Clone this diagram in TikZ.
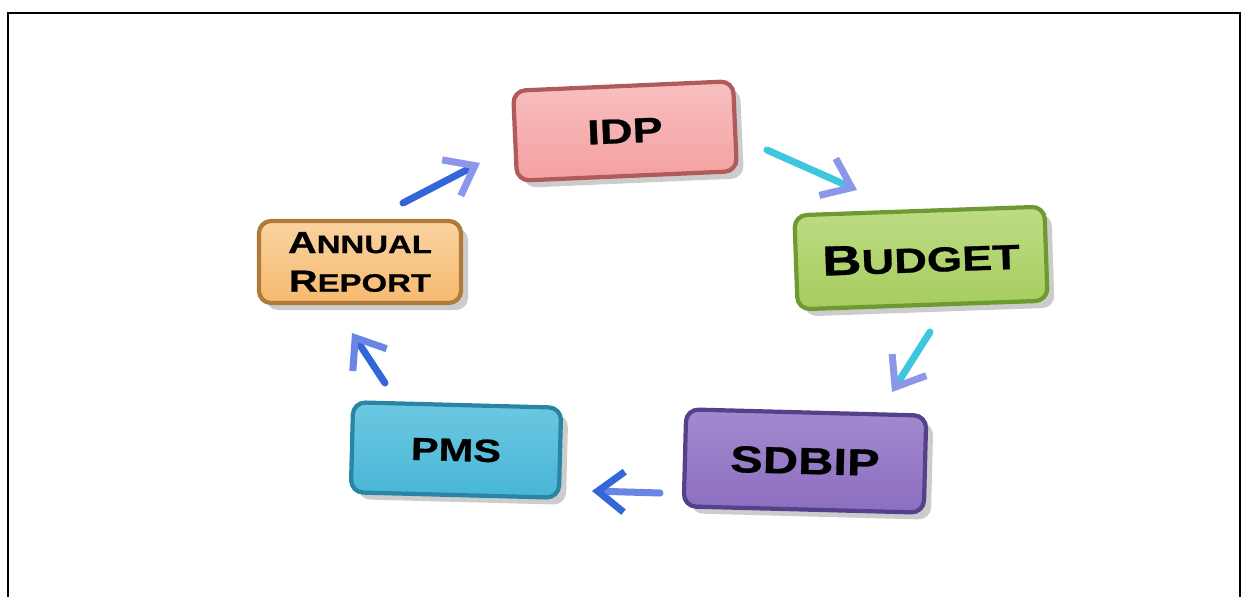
\documentclass[tikz,border=0pt]{standalone}
\usepackage{fontspec}
\setmainfont{Liberation Sans}
\newfontfamily\boxfont[FakeStretch=1.3,FakeBold=0.8]{Liberation Sans Bold}
\usetikzlibrary{arrows.meta,shadows}
\definecolor{idpfill}{HTML}{F4A0A0}
\definecolor{idptop}{HTML}{F8C0C0}
\definecolor{idpline}{HTML}{B05A5A}
\definecolor{arfill}{HTML}{F6BA70}
\definecolor{artop}{HTML}{FAD3A0}
\definecolor{arline}{HTML}{B07A3A}
\definecolor{bufill}{HTML}{A6CC5E}
\definecolor{butop}{HTML}{BEDC84}
\definecolor{buline}{HTML}{6E9A32}
\definecolor{sdfill}{HTML}{8C6EC0}
\definecolor{sdtop}{HTML}{A28ACE}
\definecolor{sdline}{HTML}{55408A}
\definecolor{pmfill}{HTML}{48B6D6}
\definecolor{pmtop}{HTML}{6CC8E2}
\definecolor{pmline}{HTML}{2A84A4}
\definecolor{ablue}{HTML}{3366D6}
\definecolor{acyan}{HTML}{3EC6DE}
\definecolor{alav}{HTML}{8C96EA}
\definecolor{alblue}{HTML}{6A86E4}
\newcommand\capfirst[4]{{\fontsize{#3}{#3}\selectfont #1}{\fontsize{#4}{#4}\selectfont #2}}
\begin{document}
\begin{tikzpicture}[x=0.01cm,y=-0.01cm,
  cbox/.style={draw=#1line, line width=1.2pt, rounded corners=3.5pt,
    top color=#1top, bottom color=#1fill, inner sep=0pt,
    drop shadow={shadow xshift=2pt, shadow yshift=-2pt, opacity=0.4},
    font=\boxfont, text=black},
  arr/.style={line width=2pt, line cap=round},
  tipc/.style={-{Straight Barb[length=7.5pt,width=11.5pt,color=#1]}}
]
\useasboundingbox (0,0) rectangle (1241,597);
% frame
\draw[line width=0.7pt] (8,597) -- (8,13) -- (1240,13) -- (1240,597);
% boxes
\node[cbox=idp, minimum width=2.2cm, minimum height=0.9cm, rotate=2.5]
  (idp) at (625,131) {\fontsize{9.9}{10}\selectfont IDP};
\node[cbox=bu, minimum width=2.5cm, minimum height=0.94cm, rotate=2]
  (bud) at (921,258) {\capfirst{B}{UDGET}{11.9}{9.9}};
\node[cbox=sd, minimum width=2.4cm, minimum height=0.97cm, rotate=-1.5]
  (sdb) at (805,461) {\fontsize{10.7}{11}\selectfont SDBIP};
\node[cbox=pm, minimum width=2.08cm, minimum height=0.9cm, rotate=-1.5]
  (pms) at (456,450) {\fontsize{9.1}{10}\selectfont PMS};
\node[cbox=ar, minimum width=2.02cm, minimum height=0.82cm, align=center]
  (ar) at (360,262) {\capfirst{A}{NNUAL}{8.7}{7.2}\\[-1pt]\capfirst{R}{EPORT}{8.7}{7.2}};
% arrow end points
\coordinate (a1s) at (403,203); \coordinate (a1e) at (480,163);
\coordinate (a2s) at (767,150); \coordinate (a2e) at (857,190);
\coordinate (a3s) at (930,332); \coordinate (a3e) at (892,392);
\coordinate (a4s) at (660,493); \coordinate (a4e) at (592,491);
\coordinate (a5s) at (385,383); \coordinate (a5e) at (352,333);
% arrows
\draw[arr, ablue, tipc=alav] (a1s) -- (a1e);
\draw[arr, acyan, tipc=alav] (a2s) -- (a2e);
\draw[arr, acyan, tipc=alav] (a3s) -- (a3e);
\draw[arr, alblue, tipc=ablue] (a4s) -- (a4e);
\draw[arr, ablue, tipc=alblue] (a5s) -- (a5e);
\end{tikzpicture}
\end{document}
